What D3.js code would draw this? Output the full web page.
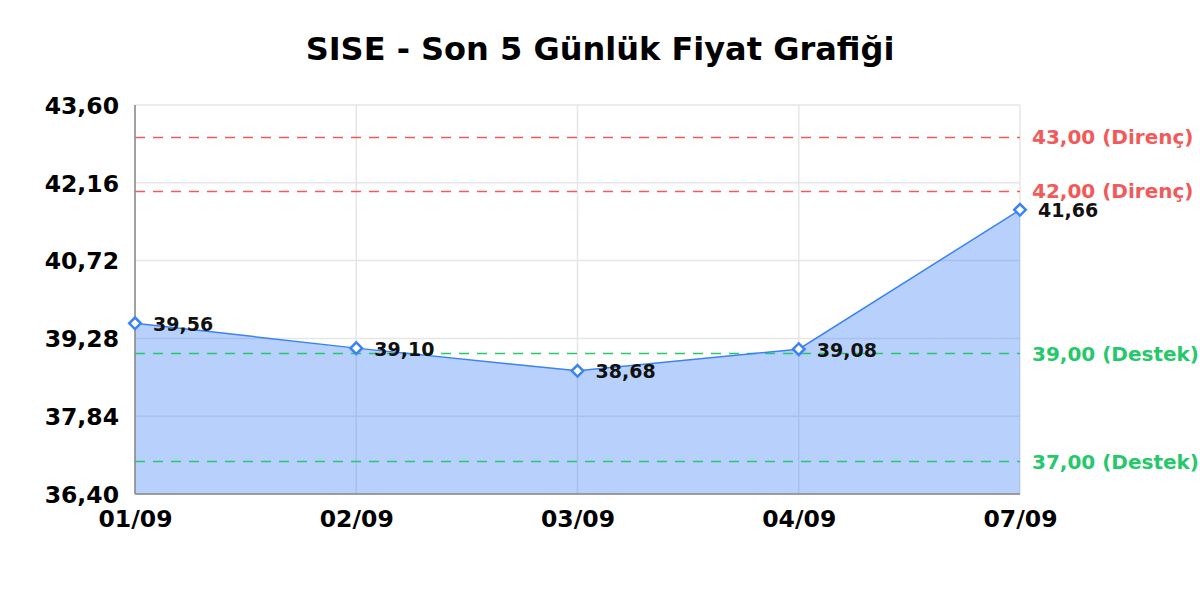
<!DOCTYPE html>
<html>
<head>
<meta charset="utf-8">
<script src="https://cdn.jsdelivr.net/npm/d3@7"></script>
<style>
  body { margin: 0; background: #fff; }
  text { font-family: "DejaVu Sans", sans-serif; font-weight: bold; }
</style>
</head>
<body>
<svg id="chart" width="1200" height="600"></svg>
<script>
// data
var days = ["01/09", "02/09", "03/09", "04/09", "07/09"];
var prices = [39.56, 39.10, 38.68, 39.08, 41.66];
var yTicks = [36.40, 37.84, 39.28, 40.72, 42.16, 43.60];
var levelValues = [43.00, 42.00, 39.00, 37.00];
var levelKinds = ["Direnç", "Direnç", "Destek", "Destek"];

var title = "SISE - Son 5 Günlük Fiyat Grafiği";
var plotLeft = 135, plotRight = 1020, plotTop = 105, plotBottom = 494;

var svg = d3.select("#chart");
var fmt = function (v) { return v.toFixed(2).replace(".", ","); };

var x = d3.scalePoint().domain(days).range([plotLeft, plotRight]);
var y = d3.scaleLinear().domain([36.40, 43.60]).range([plotBottom, plotTop]);

svg.append("text")
  .attr("x", 600)
  .attr("y", 60)
  .attr("text-anchor", "middle")
  .style("font-size", "32px")
  .text(title);

// grid
var grid = svg.append("g");
grid.selectAll("line.h").data(yTicks).enter().append("line")
  .attr("x1", plotLeft).attr("x2", plotRight)
  .attr("y1", function (d) { return y(d); })
  .attr("y2", function (d) { return y(d); })
  .style("stroke", "#e6e6e6").style("stroke-width", 1.5);
grid.selectAll("line.v").data(days).enter().append("line")
  .attr("x1", function (d) { return x(d); })
  .attr("x2", function (d) { return x(d); })
  .attr("y1", plotTop).attr("y2", plotBottom)
  .style("stroke", "#e6e6e6").style("stroke-width", 1.5);

var series = days.map(function (d, i) { return {day: d, price: prices[i]}; });

var area = d3.area()
  .x(function (d) { return x(d.day); })
  .y0(plotBottom)
  .y1(function (d) { return y(d.price); });
svg.append("path")
  .datum(series)
  .attr("d", area)
  .style("fill", "rgba(59,130,246,0.37)");

// support / resistance lines
var levels = svg.append("g");
levelValues.forEach(function (v, i) {
  var color = levelKinds[i] === "Direnç" ? "#f25a5a" : "#27c86c";
  levels.append("line")
    .attr("x1", plotLeft).attr("x2", plotRight)
    .attr("y1", y(v)).attr("y2", y(v))
    .style("stroke", color)
    .style("stroke-width", 1.5)
    .style("stroke-dasharray", "10,8");
  levels.append("text")
    .attr("x", plotRight + 12)
    .attr("y", y(v))
    .attr("dy", "0.35em")
    .style("font-size", "20px")
    .style("fill", color)
    .text(fmt(v) + " (" + levelKinds[i] + ")");
});

// axes lines
svg.append("line")
  .attr("x1", plotLeft).attr("x2", plotLeft).attr("y1", plotTop).attr("y2", plotBottom)
  .style("stroke", "#888").style("stroke-width", 1.5);
svg.append("line")
  .attr("x1", plotLeft).attr("x2", plotRight).attr("y1", plotBottom).attr("y2", plotBottom)
  .style("stroke", "#888").style("stroke-width", 1.5);

var yAxis = svg.append("g")
  .attr("transform", "translate(" + (plotLeft - 16) + ",0)")
  .call(d3.axisLeft(y).tickValues(yTicks).tickFormat(fmt).tickSize(0).tickPadding(0));
yAxis.select(".domain").remove();
yAxis.selectAll("text")
  .style("font-size", "23.5px")
  .style("fill", "#000")
  .attr("dy", "0.35em");

var xAxis = svg.append("g")
  .attr("transform", "translate(0," + plotBottom + ")")
  .call(d3.axisBottom(x).tickSize(0).tickPadding(16));
xAxis.select(".domain").remove();
xAxis.selectAll("text")
  .style("font-size", "23.5px")
  .style("fill", "#000");

var line = d3.line()
  .x(function (d) { return x(d.day); })
  .y(function (d) { return y(d.price); });
svg.append("path")
  .datum(series)
  .attr("d", line)
  .style("fill", "none")
  .style("stroke", "#3b82f6")
  .style("stroke-width", 1.5);

var marks = svg.append("g").selectAll("g").data(series).enter().append("g")
  .attr("transform", function (d) { return "translate(" + x(d.day) + "," + y(d.price) + ")"; });
marks.append("path")
  .attr("d", d3.symbol().type(d3.symbolDiamond2).size(85))
  .style("fill", "#fff")
  .style("stroke", "#3b82f6")
  .style("stroke-width", 2.5);
marks.append("text")
  .attr("x", 18)
  .attr("dy", "0.4em")
  .style("font-size", "19px")
  .style("fill", "#111")
  .text(function (d) { return fmt(d.price); });
</script>
</body>
</html>
